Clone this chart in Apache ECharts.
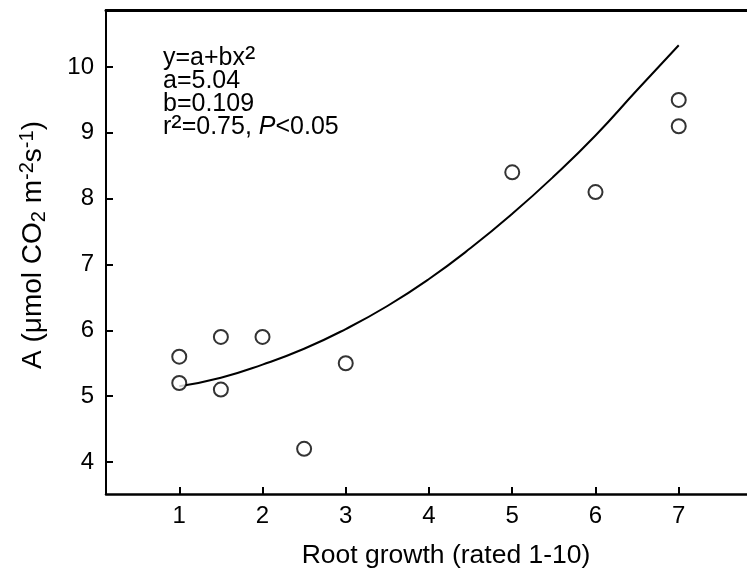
<!DOCTYPE html>
<html><head><meta charset="utf-8">
<script src="https://cdn.jsdelivr.net/npm/echarts@6/dist/echarts.min.js"></script>
<style>html,body{margin:0;padding:0;background:#fff}#c{width:747px;height:579px}</style>
</head><body><div id="c"></div>
<script>
// Observed points
const obsX = [1, 1, 1.5, 1.5, 2, 2.5, 3, 5, 6, 7, 7];
const obsY = [5.6, 5.2, 5.9, 5.1, 5.9, 4.2, 5.5, 8.4, 8.1, 9.5, 9.1];
// Fitted curve
const fitX = [1, 1.5, 2, 2.5, 3, 3.5, 4, 4.5, 5, 5.5, 6, 6.5, 7];
const fitY = [5.15, 5.28, 5.48, 5.72, 6.02, 6.37, 6.78, 7.25, 7.77, 8.34, 8.96, 9.65, 10.33];
const xTicks = [1, 2, 3, 4, 5, 6, 7];
const yTicks = [4, 5, 6, 7, 8, 9, 10];

const FONT = 'Liberation Sans, Arial, sans-serif';
const chart = echarts.init(document.getElementById('c'), null, {renderer: 'canvas'});
const axisCommon = {
  axisLine: {show: true, onZero: false, lineStyle: {color: '#000', width: 2.5}},
  axisTick: {show: true, inside: true, length: 7, lineStyle: {color: '#000', width: 2}},
  splitLine: {show: false},
  axisLabel: {color: '#000', fontSize: 24, fontFamily: FONT}
};
chart.setOption({
  animation: false,
  backgroundColor: '#fff',
  grid: {left: 106, right: 0, top: 10, bottom: 85},
  xAxis: [
    Object.assign({}, axisCommon, {
      type: 'value', min: 0.12, max: 7.82, position: 'bottom',
      axisTick: Object.assign({}, axisCommon.axisTick, {customValues: xTicks}),
      axisLabel: Object.assign({}, axisCommon.axisLabel, {customValues: xTicks, margin: 10})
    }),
    {type: 'value', min: 0.12, max: 7.82, position: 'top',
     axisLine: {show: true, lineStyle: {color: '#000', width: 3}},
     axisTick: {show: false}, axisLabel: {show: false}, splitLine: {show: false}}
  ],
  yAxis: Object.assign({}, axisCommon, {
    type: 'value', min: 3.514, max: 10.866,
    axisLine: {show: true, onZero: false, lineStyle: {color: '#000', width: 2}},
    axisTick: Object.assign({}, axisCommon.axisTick, {customValues: yTicks}),
    axisLabel: Object.assign({}, axisCommon.axisLabel, {customValues: yTicks, margin: 12})
  }),
  series: [
    {type: 'line', data: fitX.map((x, i) => [x, fitY[i]]), smooth: true, showSymbol: false,
     lineStyle: {color: '#000', width: 2}, z: 2},
    {type: 'scatter', data: obsX.map((x, i) => [x, obsY[i]]), symbol: 'circle', symbolSize: 14,
     itemStyle: {color: '#fff', borderColor: '#000', borderWidth: 2}, z: 3}
  ],
  graphic: [
    {type: 'text', left: 163, top: 43, style: {
      text: '{n|y=a+bx}{s|²}\n{n|a=5.04}\n{n|b=0.109}\n{n|r}{s|²}{n|=0.75, }{i|P}{n|<0.05}',
      fontFamily: FONT, fill: '#000', lineHeight: 23,
      rich: {
        n: {fontSize: 25, fontFamily: FONT, fill: '#000', lineHeight: 23},
        i: {fontSize: 25, fontFamily: FONT, fontStyle: 'italic', fill: '#000', lineHeight: 23},
        s: {fontSize: 31, fontFamily: FONT, fill: '#000', lineHeight: 23}
      }
    }},
    {type: 'text', x: 33, y: 245, rotation: Math.PI / 2, style: {
      text: '{n|A (μmol CO}{b|2}{n| m}{s|-2}{n|s}{s|-1}{n|)}',
      align: 'center', verticalAlign: 'middle',
      rich: {
        n: {fontSize: 28, fontFamily: FONT, fill: '#000', lineHeight: 32},
        b: {fontSize: 20, fontFamily: FONT, fill: '#000', verticalAlign: 'bottom', lineHeight: 22},
        s: {fontSize: 20, fontFamily: FONT, fill: '#000', verticalAlign: 'top', lineHeight: 16}
      }
    }},
    {type: 'text', x: 446, y: 556, style: {
      text: 'Root growth (rated 1-10)', fontSize: 26.5, fontFamily: FONT, fill: '#000',
      align: 'center', verticalAlign: 'middle'
    }}
  ]
});
</script></body></html>
